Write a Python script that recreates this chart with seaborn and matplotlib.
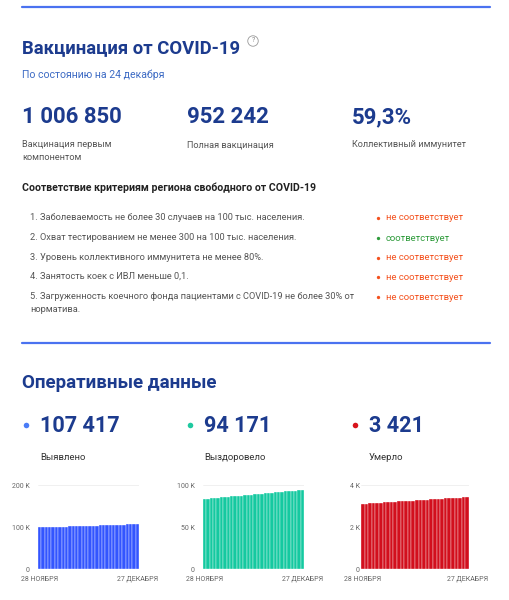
import matplotlib
matplotlib.use("Agg")
import matplotlib.pyplot as plt
import seaborn as sns
import pandas as pd

# Data
days = pd.date_range("2020-11-28", "2020-12-27")
date_ticks = ["28 НОЯБРЯ", "27 ДЕКАБРЯ"]

cases = [98900, 99150, 99420, 99700, 99980, 100250, 100530, 100800, 101080, 101350,
         101620, 101900, 102180, 102450, 102730, 103000, 103280, 103560, 103840, 104110,
         104390, 104660, 104940, 105220, 105500, 105780, 106060, 106350, 106880, 107417]
recovered = [83500, 83850, 84200, 84560, 84920, 85280, 85650, 86010, 86380, 86750,
             87110, 87480, 87850, 88220, 88590, 88960, 89330, 89700, 90070, 90440,
             90810, 91180, 91550, 91920, 92290, 92660, 93030, 93400, 93790, 94171]
deaths = [3105, 3116, 3127, 3138, 3149, 3160, 3171, 3182, 3193, 3204,
          3215, 3226, 3237, 3248, 3259, 3270, 3281, 3292, 3303, 3314,
          3325, 3336, 3347, 3358, 3369, 3380, 3391, 3401, 3411, 3421]

cases_ticks = [0, 100000, 200000]
cases_tick_labels = ["0", "100 K", "200 K"]
recovered_ticks = [0, 50000, 100000]
recovered_tick_labels = ["0", "50 K", "100 K"]
deaths_ticks = [0, 2000, 4000]
deaths_tick_labels = ["0", "2 K", "4 K"]

vacc_values = ["1 006 850", "952 242", "59,3%"]
vacc_labels = ["Вакцинация первым\nкомпонентом", "Полная вакцинация", "Коллективный иммунитет"]

criteria = [
    "1. Заболеваемость не более 30 случаев на 100 тыс. населения.",
    "2. Охват тестированием не менее 300 на 100 тыс. населения.",
    "3. Уровень коллективного иммунитета не менее 80%.",
    "4. Занятость коек с ИВЛ меньше 0,1.",
    "5. Загруженность коечного фонда пациентами с COVID-19 не более 30% от\nнорматива.",
]
criteria_ok = [False, True, False, False, False]

oper_values = ["107 417", "94 171", "3 421"]
oper_labels = ["Выявлено", "Выздоровело", "Умерло"]

sns.set_style("white")
plt.rcParams["font.family"] = ["Roboto", "DejaVu Sans"]

W, H = 510, 600
fig = plt.figure(figsize=(W / 100, H / 100), dpi=100)

NAVY = "#1c3b8e"
LINE = "#4a72f0"


def px(x, y):
    return x / W, 1 - y / H


def put(x, y, s, **kw):
    fx, fy = px(x, y)
    fig.text(fx, fy, s, **kw)


def hline(y, x0=22, x1=490, color=LINE, lw=1.6):
    fig.add_artist(plt.Line2D([x0 / W, x1 / W], [1 - y / H, 1 - y / H],
                              color=color, lw=lw, transform=fig.transFigure))


def dot(x, y, color, size):
    fx, fy = px(x, y)
    fig.add_artist(plt.Line2D([fx], [fy], marker="o", markersize=size, color=color,
                              markeredgewidth=0, transform=fig.transFigure))


# Vaccination block
hline(7)
put(22, 48, "Вакцинация от COVID-19", fontsize=13.3, fontweight="bold", color=NAVY, va="center")
put(253, 41, "?", fontsize=5, color="#888888", va="center", ha="center",
    bbox=dict(boxstyle="circle,pad=0.25", fc="white", ec="#999999", lw=0.6))
put(22, 75, "По состоянию на 24 декабря", fontsize=7.6, color="#3d6bc4", va="center")

for x, v, lab in zip([22, 187, 352], vacc_values, vacc_labels):
    put(x, 117, v, fontsize=16, fontweight="bold", color=NAVY, va="center")
    put(x, 140, lab, fontsize=6.6, color="#555555", va="top", linespacing=1.6)

put(22, 188, "Соответствие критериям региона свободного от COVID-19",
    fontsize=7.6, fontweight="bold", color="#222222", va="center")

crit_y = [218, 238, 258, 277, 297]
for y, txt, ok in zip(crit_y, criteria, criteria_ok):
    put(30, y - 5, txt, fontsize=6.7, color="#555555", va="top", linespacing=1.6)
    col = "#2e9b3b" if ok else "#f4511e"
    dot(378, y, col, 2.4)
    put(386, y, "соответствует" if ok else "не соответствует",
        fontsize=6.8, color=col, va="center")

hline(343)

# Operational block
put(22, 383, "Оперативные данные", fontsize=13.5, fontweight="bold", color=NAVY, va="center")

dot_colors = ["#4a7cf7", "#1fc9a0", "#d8141c"]
for x, v, lab, c in zip([26, 190, 355], oper_values, oper_labels, dot_colors):
    dot(x, 425, c, 4)
    put(x + 14, 426, v, fontsize=15.6, fontweight="bold", color=NAVY, va="center")
    put(x + 14, 457, lab, fontsize=6.8, color="#333333", va="center")

# Bar charts
charts = [
    (38, 139, cases, cases_ticks, cases_tick_labels, "#3355ff", 6),
    (203, 304, recovered, recovered_ticks, recovered_tick_labels, "#14c9a0", 6),
    (361, 469, deaths, deaths_ticks, deaths_tick_labels, "#d20f1d", 1),
]
for x0, x1, vals, ticks, tlabels, col, pad in charts:
    fx, fy = px(x0, 569)
    ax = fig.add_axes([fx, fy, (x1 - x0) / W, 84 / H])
    df = pd.DataFrame({"day": days.strftime("%d.%m"), "value": vals})
    sns.barplot(data=df, x="day", y="value", color=col, saturation=1, width=1.0,
                edgecolor="white", linewidth=0.25, ax=ax, zorder=2)
    ax.set_ylim(0, ticks[-1])
    ax.set_xlim(-0.5, len(vals) - 0.5)
    ax.set_yticks(ticks)
    ax.set_yticklabels(tlabels)
    ax.set_xticks([0, len(vals) - 1])
    ax.set_xticklabels(date_ticks)
    ax.tick_params(axis="both", length=0, labelsize=5, colors="#666666")
    ax.tick_params(axis="y", pad=pad)
    ax.tick_params(axis="x", pad=5)
    ax.set_xlabel("")
    ax.set_ylabel("")
    ax.grid(axis="y", color="#eeeeee", lw=0.6, zorder=0)
    for s in ax.spines.values():
        s.set_visible(False)
    ax.patch.set_alpha(0)

fig.savefig("out.png", dpi=100, facecolor="white")
